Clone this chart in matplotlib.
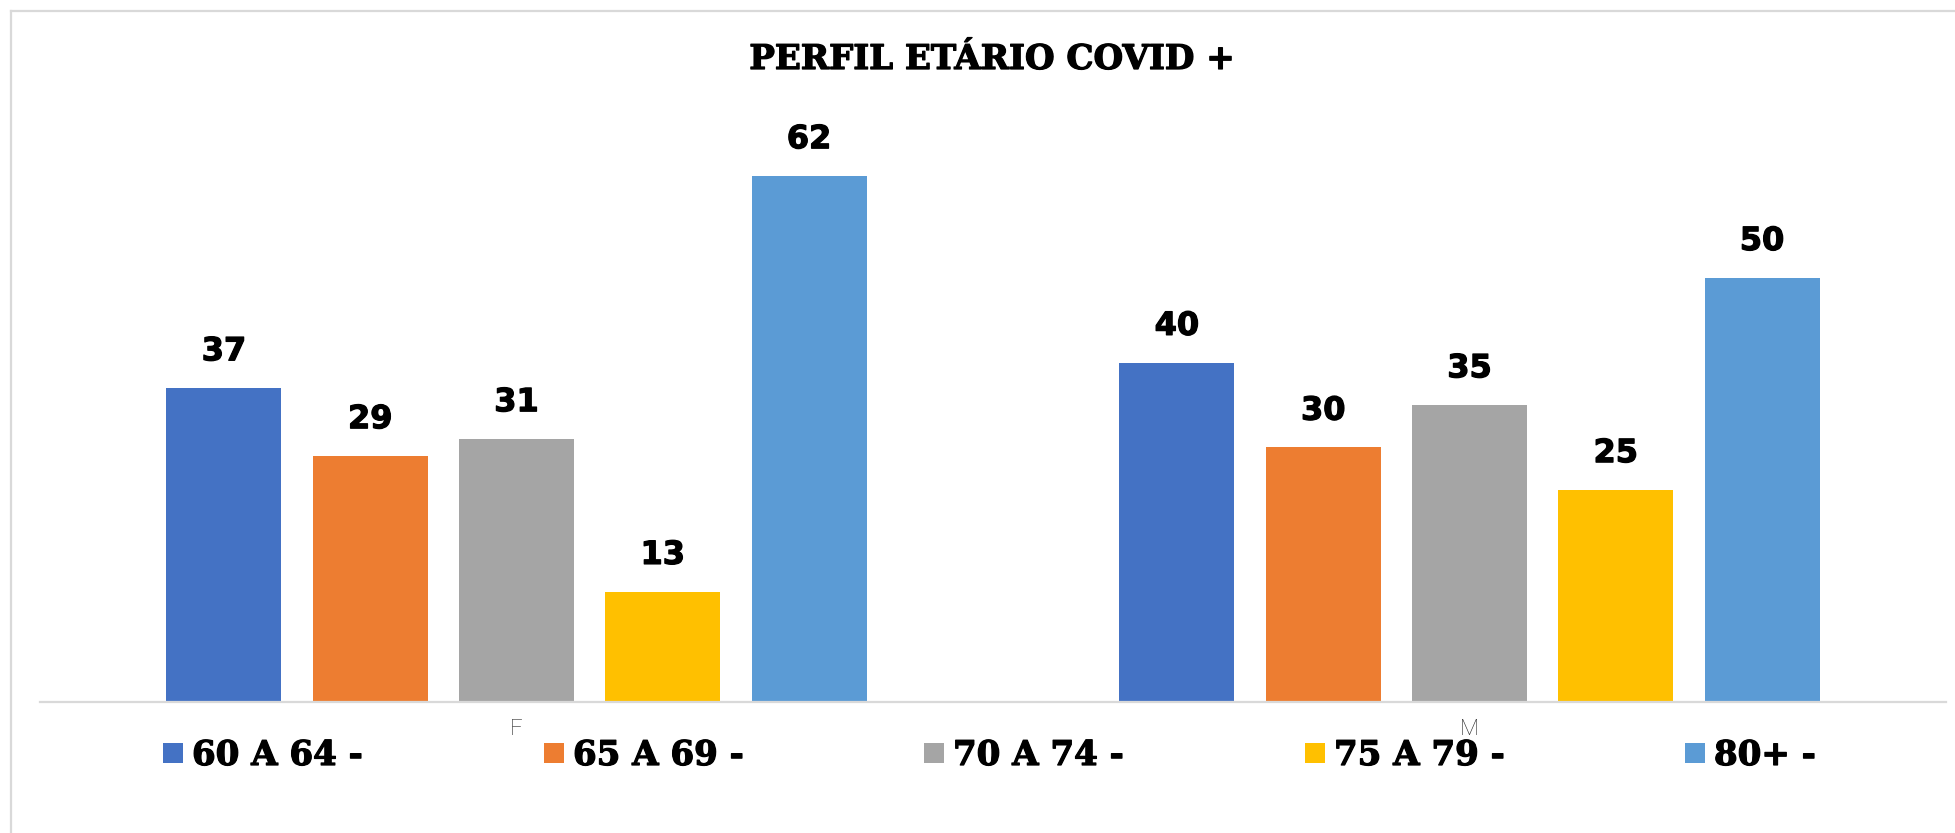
import matplotlib
matplotlib.use("Agg")
import matplotlib.pyplot as plt
from matplotlib.patches import Rectangle
from matplotlib.lines import Line2D
import matplotlib.patheffects as pe
import numpy as np

# ---- data ----
categories = ["F", "M"]
series_labels = ["60 A 64 -", "65 A 69 -", "70 A 74 -", "75 A 79 -", "80+ -"]
values_60_64 = [37, 40]
values_65_69 = [29, 30]
values_70_74 = [31, 35]
values_75_79 = [13, 25]
values_80 = [62, 50]
title = "PERFIL ETÁRIO COVID +"

series_values = [values_60_64, values_65_69, values_70_74, values_75_79, values_80]
colors = ["#4472C4", "#ED7D31", "#A5A5A5", "#FFC000", "#5B9BD5"]

W, H = 1956, 833
fig = plt.figure(figsize=(W / 100, H / 100), dpi=100)
fig.patch.set_facecolor("white")

def fx(px):
    return px / W

def fy(py):
    return 1 - py / H

# chart frame (light grey border)
fig.add_artist(Line2D([fx(11), fx(11)], [fy(11), fy(H)], color="#d9d9d9", lw=1.6,
                      transform=fig.transFigure))
fig.add_artist(Line2D([fx(11), fx(W)], [fy(11), fy(11)], color="#d9d9d9", lw=1.6,
                      transform=fig.transFigure))

# axes
left_px, right_px, base_px = 40, 1946, 702
ymax = 70
px_per_unit = 8.484
top_px = base_px - ymax * px_per_unit
ax = fig.add_axes([fx(left_px), fy(base_px), (right_px - left_px) / W, (base_px - top_px) / H])
ax.set_xlim(-0.5, 1.5)
ax.set_ylim(0, ymax)
for s in ["top", "right", "left"]:
    ax.spines[s].set_visible(False)
ax.spines["bottom"].set_color("#d9d9d9")
ax.spines["bottom"].set_linewidth(1.6)
ax.set_yticks([])

heavy = [pe.withStroke(linewidth=0.9, foreground="black")]

x = np.arange(len(categories))
bar_w = 0.1207
step = 0.1535
n = len(series_values)
for i, (vals, col) in enumerate(zip(series_values, colors)):
    pos = x + (i - (n - 1) / 2) * step
    ax.bar(pos, vals, width=bar_w, color=col, zorder=2)
    for xb, v in zip(pos, vals):
        ax.annotate(f"{v}", (xb, v), xytext=(0, 20), textcoords="offset points",
                    ha="center", va="baseline", fontsize=23, fontweight="bold",
                    family="DejaVu Sans", color="black", path_effects=heavy)

ax.set_xticks(x)
ax.set_xticklabels(categories, fontsize=16, color="#2b2b2b", family=["Roboto", "DejaVu Sans"],
                   fontweight="light")
ax.tick_params(axis="x", length=0, pad=12)

# title
fig.text(fx(992), fy(69), title, ha="center", va="baseline", fontsize=24.5,
         fontweight="bold", family="DejaVu Serif", color="black", path_effects=heavy)

# manual legend (evenly spaced like the original)
leg_x = [163, 544, 924, 1305, 1685]
for lx, lab, col in zip(leg_x, series_labels, colors):
    fig.add_artist(Rectangle((fx(lx), fy(763)), 20 / W, 20 / H, transform=fig.transFigure,
                             facecolor=col, edgecolor="none"))
    fig.text(fx(lx + 29), fy(765), lab, ha="left", va="baseline", fontsize=24.5,
             fontweight="bold", family="DejaVu Serif", color="black", path_effects=heavy)

fig.savefig("out.png", dpi=100, facecolor="white")
